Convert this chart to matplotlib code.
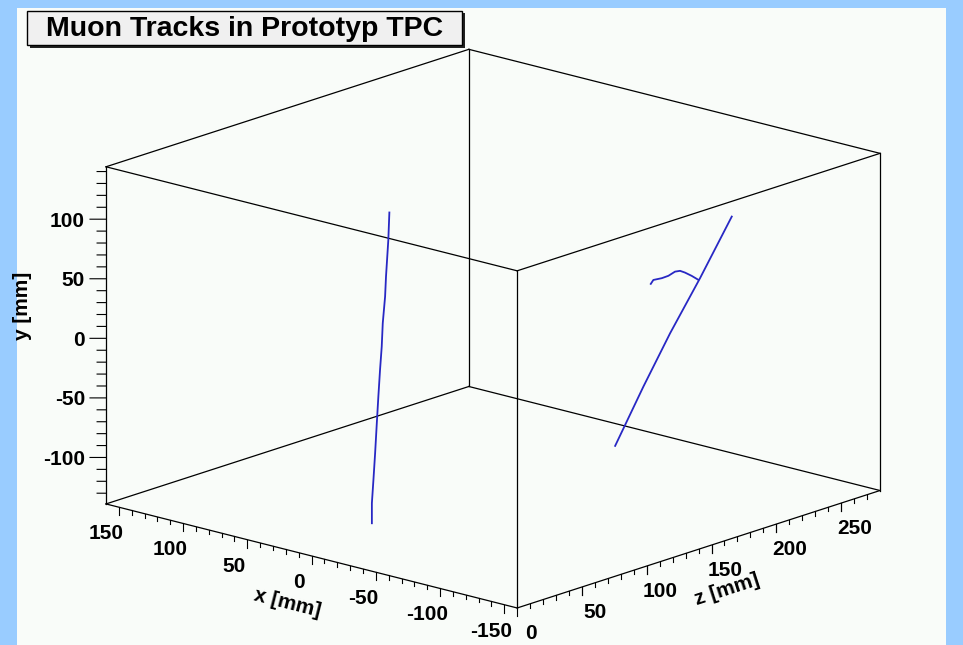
import numpy as np
import matplotlib.pyplot as plt
from matplotlib.patches import Rectangle
from matplotlib.transforms import offset_copy
from mpl_toolkits.mplot3d import proj3d

plt.rcParams["font.family"] = ["Liberation Sans", "DejaVu Sans"]

# -----------------------------------------------------------------
# detector volume (mm) and axis ticks
# -----------------------------------------------------------------
x_range = (-160, 160)
y_range = (-139, 144)
z_range = (0, 280)

x_labels = [150, 100, 50, 0, -50, -100, -150]
y_labels = [100, 50, 0, -50, -100]
z_labels = [0, 50, 100, 150, 200, 250]
x_minor = list(range(-150, 151, 10))
y_minor = list(range(-130, 141, 10))
z_minor = list(range(10, 271, 10))

# -----------------------------------------------------------------
# reconstructed hits (x, y, z in mm)
# -----------------------------------------------------------------
track1_x = [-20] * 13
track1_y = [140.6, 118.0, 87.7, 71.2, 49.5, 30.1, 11.1, -10.9, -32.9, -57.6, -79.5, -98.7, -115.5]
track1_z = [40.2, 39.4, 37.6, 36.9, 35.1, 34.3, 33.0, 31.7, 30.5, 29.2, 27.9, 26.7, 26.7]

track2_x = [-100] * 5
track2_y = [-66.9, -24.8, 12.7, 50.8, 93.9]
track2_z = [135.1, 156.9, 177.5, 200.6, 225.1]

# delta electron curling off track 2
delta_x = [-100] * 9
delta_y = [59.4, 62.0, 61.2, 61.4, 63.1, 62.4, 59.6, 55.0, 49.9]
delta_z = [162.6, 164.6, 171.1, 176.2, 181.3, 185.2, 189.0, 194.2, 199.3]

# -----------------------------------------------------------------
# figure
# -----------------------------------------------------------------
W, H = 963, 645
fig = plt.figure(figsize=(W / 100, H / 100), dpi=100)
fig.patch.set_facecolor("#99ccff")
fig.add_artist(Rectangle((17 / W, 0), (946 - 17) / W, (H - 8) / H, transform=fig.transFigure,
                         facecolor="#f9fcf9", edgecolor="none", zorder=-1))

ax = fig.add_axes([0, 0, 1, 1], projection="3d")
ax.set_proj_type("ortho")
ax.view_init(elev=16.63, azim=-138.52)
ax.set_axis_off()
ax.set_facecolor("none")
# mpl axes: X = detector z, Y = detector x, Z = detector y (up)
ax.set_xlim(*z_range)
ax.set_ylim(*x_range)
ax.set_zlim(*y_range)
aspect = (548, 549, 352)
ax.set_box_aspect(aspect)


def p3(xs, ys, zs, **kw):
    return ax.plot(zs, xs, ys, clip_on=False, **kw)


box = dict(color="black", lw=0.9)
for y in y_range:
    for x in x_range:
        p3([x, x], [y, y], list(z_range), **box)
    for z in z_range:
        p3(list(x_range), [y, y], [z, z], **box)
for x in x_range:
    for z in z_range:
        p3([x, x], list(y_range), [z, z], **box)

trk = dict(color="#2828c4", lw=1.3)
p3(track1_x, track1_y, track1_z, **trk)
p3(track2_x, track2_y, track2_z, **trk)
p3(delta_x, delta_y, delta_z, **trk)

# ticks
y0 = y_range[0]
tk = dict(color="black", lw=0.8)
for v in x_minor:
    L = 6.7 if v in x_labels else 3.5
    p3([v, v], [y0, y0 - L], [0, 0], **tk)
for v in z_minor + z_labels:
    L = 6.7 if v in z_labels else 3.5
    p3([x_range[0]] * 2, [y0, y0 - L], [v, v], **tk)
for v in y_minor:
    a, b = (7.0, -5.4) if v in y_labels else (3.9, -3.0)
    p3([x_range[1], x_range[1] + a], [v, v], [0, b], **tk)


# fit the projected box onto the canvas area
def to2d(xs, ys, zs):
    X, Y, _ = proj3d.proj_transform(np.asarray(zs, float), np.asarray(xs, float),
                                    np.asarray(ys, float), ax.get_proj())
    return X, Y


def corners_px():
    cx, cy, cz = np.meshgrid(x_range, y_range, z_range)
    X, Y = to2d(cx.ravel(), cy.ravel(), cz.ravel())
    return ax.transData.transform(np.column_stack([X, Y]))


fig.canvas.draw()
pts = corners_px()
ax.set_box_aspect(aspect, zoom=774 / np.ptp(pts[:, 0]))
fig.canvas.draw()
pts = corners_px()
dx = 493 - (pts[:, 0].min() + pts[:, 0].max()) / 2
dy = (H - 328.65) - (pts[:, 1].min() + pts[:, 1].max()) / 2
ax.set_position([dx / W, dy / H, 1, 1])

# tick labels, placed at the projected tick positions
lab = dict(fontsize=15, fontweight="bold", va="center_baseline")
X, Y = to2d(x_labels, [y0] * len(x_labels), [0] * len(x_labels))
for v, px, py in zip(x_labels, X, Y):
    ax.text2D(px, py, str(v), ha="center",
              transform=offset_copy(ax.transData, fig=fig, x=-13, y=-24.5, units="dots"), **lab)
X, Y = to2d([x_range[0]] * len(z_labels), [y0] * len(z_labels), z_labels)
for v, px, py in zip(z_labels, X, Y):
    ax.text2D(px, py, str(v), ha="center",
              transform=offset_copy(ax.transData, fig=fig, x=13.5, y=-23.5, units="dots"), **lab)
X, Y = to2d([x_range[1]] * len(y_labels), y_labels, [0] * len(y_labels))
for v, px, py in zip(y_labels, X, Y):
    ax.text2D(px, py, str(v), ha="right",
              transform=offset_copy(ax.transData, fig=fig, x=-21, y=0, units="dots"), **lab)

fig.text(287 / W, 1 - 603 / H, "x [mm]", rotation=-14.2, ha="center", va="center",
         fontsize=15, fontweight="bold", rotation_mode="anchor")
fig.text(727.5 / W, 1 - 590 / H, "z [mm]", rotation=17.9, ha="center", va="center",
         fontsize=15, fontweight="bold", rotation_mode="anchor")
fig.text(22 / W, 1 - 306 / H, "y [mm]", rotation=90, ha="center", va="center",
         fontsize=15, fontweight="bold")

# title box with shadow
fig.add_artist(Rectangle((30 / W, 1 - 48 / H), 435 / W, 35 / H, transform=fig.transFigure,
                         facecolor="#222222", edgecolor="none", zorder=3))
fig.add_artist(Rectangle((27 / W, 1 - 45 / H), 435 / W, 34 / H, transform=fig.transFigure,
                         facecolor="#f0f0f0", edgecolor="black", lw=1, zorder=4))
fig.text(245 / W, 1 - 28.5 / H, "Muon Tracks in Prototyp TPC", ha="center", va="center",
         fontsize=20.5, fontweight="bold", zorder=5)

fig.savefig("out.png", dpi=100)
